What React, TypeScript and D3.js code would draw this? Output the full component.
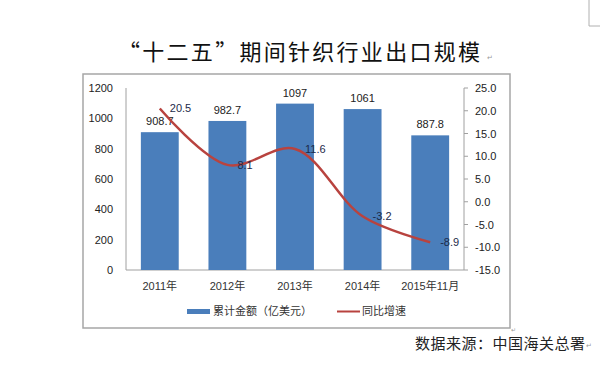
import * as d3 from "d3";

const categories = ["2011年", "2012年", "2013年", "2014年", "2015年11月"];
const amounts = [908.7, 982.7, 1097, 1061, 887.8];
const growth = [20.5, 8.1, 11.6, -3.2, -8.9];
const leftTicks = [0, 200, 400, 600, 800, 1000, 1200];
const rightTicks = [-15, -10, -5, 0, 5, 10, 15, 20, 25];

const W = 600;
const H = 366;
const plot = { left: 126, right: 464, top: 88, bottom: 270 };
const font = "'Liberation Sans', 'Noto Sans CJK SC', sans-serif";
const cjk = "'Noto Sans CJK SC', sans-serif";
const blue = "#4a7ebb";
const red = "#b8433f";

export default function App() {
  const x = d3
    .scaleBand()
    .domain(categories)
    .range([plot.left, plot.right])
    .paddingInner(0.44)
    .paddingOuter(0.22);

  const yL = d3.scaleLinear().domain([0, 1200]).range([plot.bottom, plot.top]);
  const yR = d3.scaleLinear().domain([-15, 25]).range([plot.bottom, plot.top]);

  const cx = (c) => x(c) + x.bandwidth() / 2;

  const line = d3
    .line()
    .x((d, i) => cx(categories[i]))
    .y((d) => yR(d))
    .curve(d3.curveCatmullRom.alpha(0.5));

  return (
    <svg
      width={W}
      height={H}
      style={{ position: "absolute", left: 0, top: 0, background: "#fff" }}
    >
      {/* page corner mark */}
      <path d="M589,0 V26 H600" fill="none" stroke="#b0b0b0" strokeWidth={1} />

      <text
        x={118}
        y={60}
        fontFamily={cjk}
        fontSize={22}
        fill="#111"
        textLength={362}
        lengthAdjust="spacing"
      >
        “十二五”期间针织行业出口规模
      </text>
      <text x={487} y={60} fontFamily="'DejaVu Sans'" fontSize={7} fill="#999">↵</text>

      <rect x={83} y={74} width={427} height={254} fill="#fff" stroke="#a6a6a6" strokeWidth={1.5} />
      <text x={511} y={332} fontFamily="'DejaVu Sans'" fontSize={6} fill="#999">↵</text>

      {/* axes */}
      <line x1={plot.left} x2={plot.left} y1={plot.top} y2={plot.bottom} stroke="#a0a0a0" />
      <line x1={plot.left} x2={plot.right} y1={plot.bottom} y2={plot.bottom} stroke="#a0a0a0" />
      <line x1={plot.right} x2={plot.right} y1={plot.top} y2={plot.bottom} stroke="#a0a0a0" />

      {leftTicks.map((t) => (
        <text key={t} x={113} y={yL(t) + 4} textAnchor="end" fontFamily={font} fontSize={11} fill="#222">
          {t}
        </text>
      ))}
      {rightTicks.map((t) => (
        <g key={t}>
          <line x1={plot.right} x2={plot.right + 4} y1={yR(t)} y2={yR(t)} stroke="#a0a0a0" />
          <text x={475} y={yR(t) + 4} fontFamily={font} fontSize={11} fill="#222">
            {t.toFixed(1)}
          </text>
        </g>
      ))}

      {/* bars */}
      {amounts.map((v, i) => (
        <g key={categories[i]}>
          <rect
            x={x(categories[i])}
            y={yL(v)}
            width={x.bandwidth()}
            height={yL(0) - yL(v)}
            fill={blue}
          />
          <text x={cx(categories[i])} y={yL(v) - 7} textAnchor="middle" fontFamily={font} fontSize={11} fill="#222">
            {v}
          </text>
          <text x={cx(categories[i])} y={290} textAnchor="middle" fontFamily={font} fontSize={11} fill="#333">
            {categories[i]}
          </text>
        </g>
      ))}

      {/* growth line */}
      <path d={line(growth)} fill="none" stroke={red} strokeWidth={2.5} />
      {growth.map((v, i) => (
        <text key={i} x={cx(categories[i]) + 10} y={yR(v) + 4} fontFamily={font} fontSize={11} fill="#1c2a4a">
          {v.toFixed(1)}
        </text>
      ))}

      {/* legend */}
      <rect x={187} y={309} width={23} height={5} fill={blue} />
      <text x={213} y={315} fontFamily={cjk} fontSize={11} fill="#333">累计金额（亿美元）</text>
      <line x1={337} x2={360} y1={311.5} y2={311.5} stroke={red} strokeWidth={2} />
      <text x={362} y={315} fontFamily={cjk} fontSize={11} fill="#333">同比增速</text>

      <text
        x={415}
        y={349}
        fontFamily={cjk}
        fontSize={15}
        fill="#222"
        textLength={170}
        lengthAdjust="spacing"
      >
        数据来源：中国海关总署
      </text>
      <text x={586} y={348} fontFamily="'DejaVu Sans'" fontSize={7} fill="#999">↵</text>
    </svg>
  );
}
